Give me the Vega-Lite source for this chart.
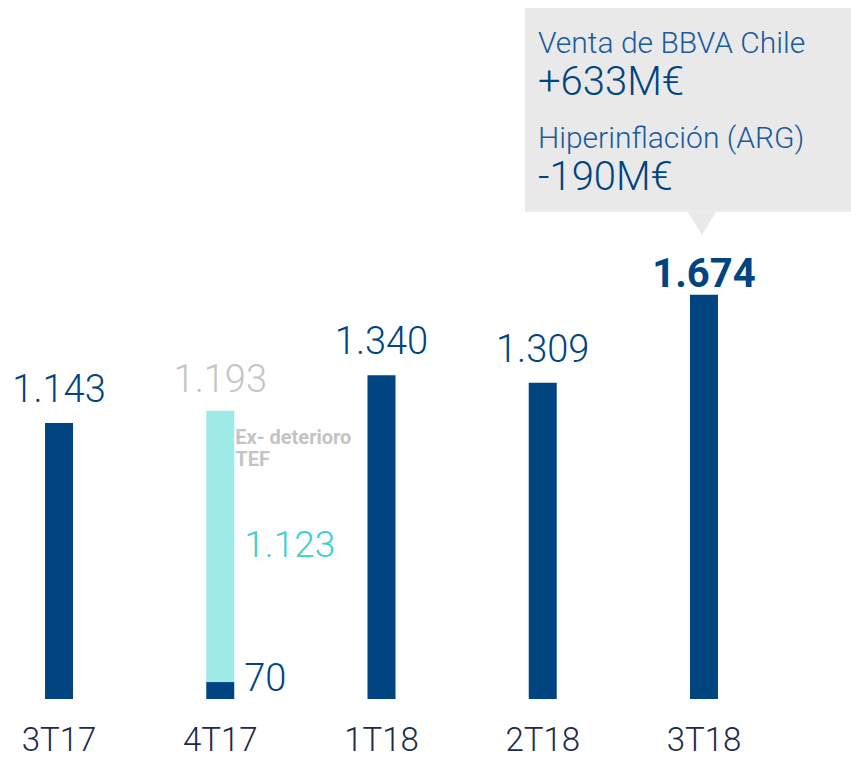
{
  "$schema": "https://vega.github.io/schema/vega-lite/v6.json",
  "width": 851,
  "height": 699,
  "padding": 0,
  "background": "white",
  "config": {"view": {"stroke": null}, "font": "Roboto"},
  "datasets": {
    "bars": [
      {"q": "3T17", "part": "base", "start": 0, "end": 1143},
      {"q": "4T17", "part": "extra", "start": 70, "end": 1193},
      {"q": "4T17", "part": "base", "start": 0, "end": 70},
      {"q": "1T18", "part": "base", "start": 0, "end": 1340},
      {"q": "2T18", "part": "base", "start": 0, "end": 1309},
      {"q": "3T18", "part": "base", "start": 0, "end": 1674}
    ],
    "totals": [
      {"q": "3T17", "total": 1143, "label": "1.143", "kind": "normal"},
      {"q": "4T17", "total": 1193, "label": "1.193", "kind": "grey"},
      {"q": "1T18", "total": 1340, "label": "1.340", "kind": "normal"},
      {"q": "2T18", "total": 1309, "label": "1.309", "kind": "normal"},
      {"q": "3T18", "total": 1674, "label": "1.674", "kind": "bold"}
    ],
    "box": [{"q": "3T18", "low": 2017, "high": 2861, "tip": 1969}],
    "notes": [
      {"q": "3T18", "text": "Venta de BBVA Chile", "v": 2675, "kind": "title"},
      {"q": "3T18", "text": "+633M€", "v": 2501, "kind": "value"},
      {"q": "3T18", "text": "Hiperinflación (ARG)", "v": 2282, "kind": "title"},
      {"q": "3T18", "text": "-190M€", "v": 2108, "kind": "value"}
    ]
  },
  "encoding": {
    "x": {
      "field": "q",
      "type": "nominal",
      "sort": ["3T17", "4T17", "1T18", "2T18", "3T18"],
      "scale": {"type": "band", "range": [-21.6, 784.6], "paddingInner": 0, "paddingOuter": 0},
      "axis": {
        "title": null,
        "domain": false,
        "ticks": false,
        "labelAngle": 0,
        "labelFont": "Roboto",
        "labelFontSize": 33,
        "labelFontWeight": 300,
        "labelColor": "#1c2a4a",
        "labelPadding": 25,
        "labelBaseline": "top"
      }
    }
  },
  "layer": [
    {
      "data": {"name": "box"},
      "mark": {"type": "bar", "width": 326, "xOffset": -16, "color": "#e9e9e9"},
      "encoding": {
        "y": {"field": "low", "type": "quantitative", "scale": {"domain": [0, 2894], "nice": false, "zero": true}, "axis": null},
        "y2": {"field": "high"}
      }
    },
    {
      "data": {"name": "box"},
      "mark": {"type": "point", "shape": "M-1,-0.82L1,-0.82L0,0.82Z", "filled": true, "size": 784, "color": "#e9e9e9", "opacity": 1, "xOffset": -2},
      "encoding": {
        "y": {"field": "tip", "type": "quantitative"}
      }
    },
    {
      "data": {"name": "bars"},
      "mark": {"type": "bar", "width": 28},
      "encoding": {
        "y": {"field": "start", "type": "quantitative"},
        "y2": {"field": "end"},
        "color": {"field": "part", "type": "nominal", "scale": {"domain": ["base", "extra"], "range": ["#004481", "#9deae6"]}, "legend": null}
      }
    },
    {
      "data": {"name": "totals"},
      "transform": [{"filter": "datum.kind == 'normal'"}],
      "mark": {"type": "text", "fontSize": 38, "fontWeight": 300, "baseline": "alphabetic", "dy": -21, "color": "#004481"},
      "encoding": {
        "y": {"field": "total", "type": "quantitative"},
        "text": {"field": "label"}
      }
    },
    {
      "data": {"name": "totals"},
      "transform": [{"filter": "datum.kind == 'grey'"}],
      "mark": {"type": "text", "fontSize": 38, "fontWeight": 300, "baseline": "alphabetic", "dy": -19, "color": "#c4c4c4"},
      "encoding": {
        "y": {"field": "total", "type": "quantitative"},
        "text": {"field": "label"}
      }
    },
    {
      "data": {"name": "totals"},
      "transform": [{"filter": "datum.kind == 'bold'"}],
      "mark": {"type": "text", "fontSize": 40, "fontWeight": "bold", "baseline": "alphabetic", "dy": -8, "color": "#004481"},
      "encoding": {
        "y": {"field": "total", "type": "quantitative"},
        "text": {"field": "label"}
      }
    },
    {
      "data": {"values": [{"q": "4T17", "label": "1.123", "start": 70, "end": 1193}]},
      "transform": [{"calculate": "(datum.start + datum.end) / 2", "as": "mid"}],
      "mark": {"type": "text", "fontSize": 37, "fontWeight": 300, "align": "left", "baseline": "middle", "dx": 24, "color": "#3dd0cf"},
      "encoding": {
        "y": {"field": "mid", "type": "quantitative"},
        "text": {"field": "label"}
      }
    },
    {
      "data": {"values": [{"q": "4T17", "label": "70", "end": 70}]},
      "mark": {"type": "text", "fontSize": 38, "fontWeight": 300, "align": "left", "baseline": "middle", "dx": 24, "dy": -2, "color": "#004481"},
      "encoding": {
        "y": {"field": "end", "type": "quantitative"},
        "text": {"field": "label"}
      }
    },
    {
      "data": {"values": [{"q": "4T17", "label": ["Ex- deterioro", "TEF"], "end": 1193}]},
      "mark": {"type": "text", "fontSize": 20, "fontWeight": "bold", "align": "left", "baseline": "top", "dx": 15, "dy": 17, "lineHeight": 22, "color": "#c4c4c4"},
      "encoding": {
        "y": {"field": "end", "type": "quantitative"},
        "text": {"field": "label"}
      }
    },
    {
      "data": {"name": "notes"},
      "transform": [{"filter": "datum.kind == 'title'"}],
      "mark": {"type": "text", "fontSize": 30, "fontWeight": 300, "align": "left", "baseline": "alphabetic", "dx": -166, "color": "#1a5a9e"},
      "encoding": {
        "y": {"field": "v", "type": "quantitative"},
        "text": {"field": "text"}
      }
    },
    {
      "data": {"name": "notes"},
      "transform": [{"filter": "datum.kind == 'value'"}],
      "mark": {"type": "text", "fontSize": 40, "fontWeight": 300, "align": "left", "baseline": "alphabetic", "dx": -166, "color": "#004481"},
      "encoding": {
        "y": {"field": "v", "type": "quantitative"},
        "text": {"field": "text"}
      }
    }
  ]
}
